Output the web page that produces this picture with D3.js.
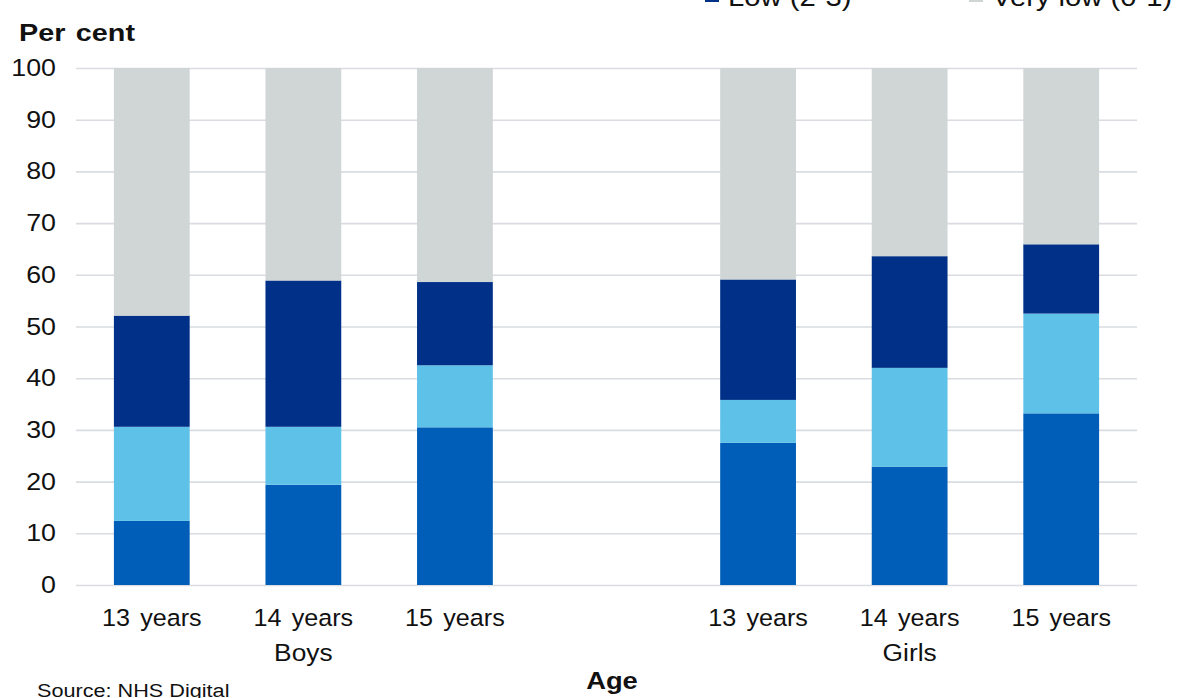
<!DOCTYPE html>
<html>
<head>
<meta charset="utf-8">
<script src="https://cdn.jsdelivr.net/npm/d3@7"></script>
<style>
  html, body { margin: 0; padding: 0; background: #ffffff; }
  svg { display: block; font-family: "Liberation Sans", Arial, sans-serif; }
</style>
</head>
<body>
<svg id="chart" width="1177" height="698"></svg>
<script>
// ---- data ----
const slotKeys   = ["B13", "B14", "B15", "gap", "G13", "G14", "G15"];
const slotLabels = ["13 years", "14 years", "15 years", "", "13 years", "14 years", "15 years"];
const groupLabels = ["Boys", "Girls"];
const groupCentreSlots = ["B14", "G14"];
const seriesNames = ["High (6-7)", "Moderate (4-5)", "Low (2-3)", "Very low (0-1)"];
const seriesColors = ["#005EB8", "#5EC2E8", "#003087", "#D0D5D6"];
// per series, values for B13,B14,B15,G13,G14,G15 (per cent)
const highVals     = [12.4, 19.4, 30.5, 27.5, 22.9, 33.2];
const moderateVals = [18.2, 11.2, 12.0,  8.3, 19.1, 19.3];
const lowVals      = [21.5, 28.3, 16.1, 23.3, 21.6, 13.4];
const veryLowVals  = [47.9, 41.1, 41.4, 40.9, 36.4, 34.1];
const barKeys = ["B13", "B14", "B15", "G13", "G14", "G15"];
const yTicks = [0, 10, 20, 30, 40, 50, 60, 70, 80, 90, 100];

// ---- build table ----
const seriesVals = [highVals, moderateVals, lowVals, veryLowVals];
const table = barKeys.map((k, i) => {
  const row = { key: k };
  seriesNames.forEach((s, j) => row[s] = seriesVals[j][i]);
  return row;
});
const stacked = d3.stack().keys(seriesNames)(table);

// ---- layout ----
const svg = d3.select("#chart");
const plot = { left: 76, right: 1137, top: 68, bottom: 585 };

const x = d3.scaleBand().domain(slotKeys).range([plot.left, plot.right])
  .paddingInner(0.5).paddingOuter(0.25);
const y = d3.scaleLinear().domain([0, 100]).range([plot.bottom, plot.top]);

// text helper: place a horizontally widened text at (tx, ty)
function addText(parent, tx, ty, str, opts) {
  const sx = opts.sx || 1.12;
  const t = parent.append("text")
    .attr("transform", `translate(${tx},${ty}) scale(${sx},1)`)
    .attr("font-size", opts.size || 23.5)
    .attr("fill", "#111")
    .attr("text-anchor", opts.anchor || "start")
    .text(str);
  if (opts.bold) t.attr("font-weight", "bold");
  return t;
}

// gridlines + tick labels
const tickSx = 1.14;
const yAxis = d3.axisLeft(y).tickValues(yTicks)
  .tickSize(-(plot.right - plot.left)).tickPadding(20);
const gy = svg.append("g").attr("transform", `translate(${plot.left},0)`).call(yAxis);
gy.select(".domain").remove();
gy.selectAll(".tick line").attr("stroke", "#D9DCE1").attr("stroke-width", 1.6);
gy.selectAll(".tick text").attr("fill", "#111").attr("font-size", 23.5)
  .attr("font-family", "Liberation Sans, Arial, sans-serif")
  .attr("x", -20 / tickSx)
  .attr("transform", `scale(${tickSx},1)`);

// bars
svg.append("g").selectAll("g").data(stacked).join("g")
  .attr("fill", (d, i) => seriesColors[i])
  .selectAll("rect").data(d => d).join("rect")
  .attr("x", d => x(d.data.key))
  .attr("width", x.bandwidth())
  .attr("y", d => y(d[1]))
  .attr("height", d => y(d[0]) - y(d[1]));

// category labels
const cat = svg.append("g");
slotKeys.forEach((k, i) => {
  if (!slotLabels[i]) return;
  addText(cat, x(k) + x.bandwidth() / 2, 626, slotLabels[i], { anchor: "middle", sx: 1.07 })
    .attr("word-spacing", 3);
});
groupCentreSlots.forEach((k, i) => {
  addText(cat, x(k) + x.bandwidth() / 2, 661, groupLabels[i], { anchor: "middle", sx: 1.12 });
});

// axis titles
addText(svg, 19, 41, "Per cent", { size: 24, bold: true, sx: 1.2 }).attr("word-spacing", 2);
addText(svg, 612, 689, "Age", { size: 24, bold: true, anchor: "middle", sx: 1.14 });

// source
addText(svg, 37, 697, "Source: NHS Digital", { size: 19, sx: 1.14 });

// legend (2 x 2, top row off-canvas)
const legendPos = [[705, -28], [969, -28], [705, 6], [969, 6]];
const lg = svg.append("g");
seriesNames.forEach((s, i) => {
  const [lx, ly] = legendPos[i];
  lg.append("rect").attr("x", lx).attr("y", ly - 18).attr("width", 14).attr("height", 14)
    .attr("fill", seriesColors[i]);
  addText(lg, lx + 23, ly, s, { size: 25, sx: 1.17 });
});
</script>
</body>
</html>
